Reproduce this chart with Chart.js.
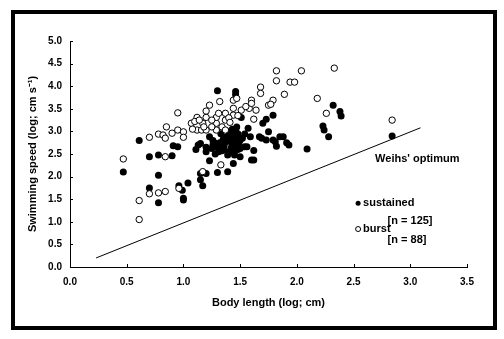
<!DOCTYPE html>
<html>
<head>
<meta charset="utf-8">
<script src="https://cdn.jsdelivr.net/npm/chart.js@4.4.1/dist/chart.umd.min.js"></script>
<style>
  html, body { margin: 0; padding: 0; background: #fff; }
  #wrap { position: relative; width: 504px; height: 339px; }
</style>
</head>
<body>
<div id="wrap"><canvas id="speedChart" width="504" height="339"></canvas></div>
<script>
// body length (log cm) / swimming speed (log cm s-1)
const sustainedX = [0.47, 0.61, 0.70, 0.78, 0.90, 0.78, 0.70, 0.78, 0.91, 0.95, 0.96, 0.99, 1.00, 1.00, 1.04,
  1.11, 1.13, 1.15, 1.15, 1.15, 1.17, 1.20, 1.20, 1.20, 1.23, 1.23, 1.26, 1.28, 1.28, 1.30, 1.30, 1.34, 1.34,
  1.38, 1.39, 1.39, 1.42, 1.44, 1.44, 1.44, 1.45, 1.45, 1.46, 1.46, 1.46, 1.47, 1.48, 1.50, 1.50, 1.51, 1.54,
  1.54, 1.56, 1.57, 1.59, 1.60, 1.62, 1.62, 1.32, 1.36, 1.40, 1.42, 1.40, 1.48, 1.43, 1.36, 1.49, 1.52, 1.33,
  1.30, 1.25, 1.47, 1.67, 1.70, 1.73, 1.79, 1.75, 1.73, 1.79, 1.69, 1.81, 1.82, 1.85, 1.88, 1.91, 1.93, 2.09,
  2.23, 2.24, 2.28, 2.32, 2.38, 2.39, 2.84, 1.38, 1.41, 1.45, 1.47, 1.43, 1.35, 1.50, 1.26, 1.31, 1.46];
const sustainedY = [2.10, 2.80, 2.44, 2.48, 2.46, 2.03, 1.75, 1.42, 2.68, 2.66, 1.80, 1.70, 1.48, 1.52, 1.86,
  2.60, 2.70, 2.73, 2.07, 1.93, 1.80, 2.07, 2.55, 2.65, 2.35, 2.88, 2.80, 2.50, 2.74, 2.09, 3.90, 2.63, 2.57,
  2.88, 2.48, 2.11, 2.63, 2.29, 2.96, 2.81, 2.48, 2.55, 3.03, 3.88, 3.81, 2.70, 2.60, 2.44, 2.81, 3.31, 2.94,
  2.66, 2.66, 3.07, 2.88, 2.37, 2.58, 2.37, 2.75, 2.70, 2.78, 2.90, 3.00, 2.95, 2.68, 2.60, 2.75, 2.85, 2.95,
  2.65, 2.62, 3.10, 2.88, 3.18, 3.27, 3.36, 2.99, 2.81, 2.81, 2.85, 2.77, 2.67, 2.88, 2.88, 2.75, 2.70, 2.61,
  3.12, 3.03, 2.88, 3.58, 3.44, 3.34, 2.90, 2.78, 2.55, 2.75, 2.85, 3.05, 2.82, 2.62, 2.70, 2.55, 2.92];

const burstX = [0.47, 0.61, 0.61, 0.70, 0.78, 0.84, 0.84, 0.96, 1.17, 1.33, 0.70, 0.78, 0.82, 0.84, 0.85,
  0.90, 0.95, 1.00, 1.00, 0.95, 1.07, 1.12, 1.12, 1.16, 1.17, 1.20, 1.20, 1.20, 1.23, 1.29, 1.29, 1.32, 1.34,
  1.29, 1.37, 1.37, 1.37, 1.44, 1.44, 1.44, 1.47, 1.51, 1.58, 1.60, 1.62, 1.64, 1.68, 1.68, 1.75, 1.79, 1.82,
  1.82, 2.04, 1.94, 1.98, 2.33, 1.89, 2.18, 2.26, 2.84, 1.77, 1.10, 1.25, 1.40, 1.60, 1.14, 1.18, 1.25, 1.31,
  1.41, 1.48, 1.55, 1.08];
const burstY = [2.39, 1.47, 1.05, 1.62, 1.64, 1.67, 2.44, 1.74, 2.11, 2.26, 2.87, 2.94, 2.92, 2.85, 3.10,
  2.96, 3.03, 2.99, 2.87, 3.41, 3.18, 3.31, 3.03, 3.03, 3.18, 3.31, 3.03, 3.45, 3.58, 3.18, 3.31, 3.66, 3.10,
  3.03, 3.40, 3.25, 3.03, 3.36, 3.51, 3.69, 3.73, 3.47, 3.51, 3.69, 3.27, 3.47, 3.98, 3.84, 3.58, 3.69, 4.34,
  4.12, 4.34, 4.09, 4.09, 4.40, 3.82, 3.73, 3.40, 3.25, 3.60, 3.22, 3.25, 3.30, 3.62, 3.25, 3.10, 3.10, 3.40,
  3.20, 3.35, 3.55, 3.05];

const weihsX = [0.23, 3.09];
const weihsY = [0.20, 3.08];

const xTicks = ['0.0', '0.5', '1.0', '1.5', '2.0', '2.5', '3.0', '3.5'];
const yTicks = ['0.0', '0.5', '1.0', '1.5', '2.0', '2.5', '3.0', '3.5', '4.0', '4.5', '5.0'];

const toPoints = (xs, ys) => xs.map((x, i) => ({ x: x, y: ys[i] }));

Chart.defaults.font.family = "'Liberation Sans', Arial, sans-serif";
Chart.defaults.font.weight = 'bold';
Chart.defaults.font.size = 10;
Chart.defaults.color = '#000';

// frame, inward ticks and the text notes inside the plot
const extras = {
  id: 'extras',
  afterDraw(chart) {
    const ctx = chart.ctx;
    const xs = chart.scales.x, ys = chart.scales.y;
    ctx.save();
    ctx.strokeStyle = '#000';
    ctx.lineWidth = 4;
    ctx.strokeRect(13, 12, 482, 316);

    ctx.lineWidth = 1;
    ctx.beginPath();
    xTicks.forEach(t => {
      const px = Math.round(xs.getPixelForValue(parseFloat(t))) + 0.5;
      ctx.moveTo(px, ys.bottom);
      ctx.lineTo(px, ys.bottom - 3);
    });
    yTicks.forEach(t => {
      const py = Math.round(ys.getPixelForValue(parseFloat(t))) + 0.5;
      ctx.moveTo(xs.left, py);
      ctx.lineTo(xs.left + 3, py);
    });
    ctx.stroke();

    ctx.fillStyle = '#000';
    ctx.font = "bold 11px 'Liberation Sans', Arial, sans-serif";
    ctx.textBaseline = 'middle';
    ctx.textAlign = 'left';
    ctx.fillText("Weihs' optimum", xs.getPixelForValue(2.69), ys.getPixelForValue(2.4));

    // legend
    const lx = xs.getPixelForValue(2.54);
    const r1 = ys.getPixelForValue(1.41);
    const r3 = ys.getPixelForValue(0.84);
    ctx.beginPath();
    ctx.arc(lx, r1, 2.5, 0, Math.PI * 2);
    ctx.fill();
    ctx.beginPath();
    ctx.arc(lx, r3, 2.5, 0, Math.PI * 2);
    ctx.fillStyle = '#fff';
    ctx.fill();
    ctx.stroke();
    ctx.fillStyle = '#000';
    ctx.fillText('sustained', lx + 5, r1);
    ctx.fillText('burst', lx + 5, r3);
    ctx.fillText('[n = 125]', xs.getPixelForValue(2.80), ys.getPixelForValue(1.02));
    ctx.fillText('[n = 88]', xs.getPixelForValue(2.80), ys.getPixelForValue(0.59));
    ctx.restore();
  }
};

new Chart(document.getElementById('speedChart'), {
  type: 'scatter',
  data: {
    datasets: [
      {
        label: 'burst',
        data: toPoints(burstX, burstY),
        pointRadius: 3.2,
        pointBackgroundColor: '#fff',
        pointBorderColor: '#000',
        pointBorderWidth: 1,
        order: 0
      },
      {
        label: 'sustained',
        data: toPoints(sustainedX, sustainedY),
        pointRadius: 3.5,
        pointBackgroundColor: '#000',
        pointBorderColor: '#000',
        pointBorderWidth: 0,
        order: 1
      },
      {
        type: 'line',
        label: "Weihs' optimum",
        data: toPoints(weihsX, weihsY),
        borderColor: '#000',
        borderWidth: 1,
        pointRadius: 0,
        fill: false,
        order: 2
      }
    ]
  },
  options: {
    responsive: false,
    animation: false,
    layout: { padding: { left: 0, right: 37, top: 41, bottom: 0 } },
    plugins: { legend: { display: false }, tooltip: { enabled: false } },
    scales: {
      x: {
        type: 'linear',
        min: 0,
        max: 3.5,
        afterFit: s => { s.height = 72; },
        grid: { display: false, drawTicks: false },
        border: { display: true, color: '#000', width: 1 },
        ticks: {
          stepSize: 0.5,
          padding: 9,
          callback: v => xTicks[Math.round(v * 2)]
        },
        title: {
          display: true,
          text: 'Body length (log; cm)',
          font: { size: 11, weight: 'bold' },
          padding: { top: 0, bottom: 29 }
        }
      },
      y: {
        type: 'linear',
        min: 0,
        max: 5,
        afterFit: s => { s.width = 70; },
        grid: { display: false, drawTicks: false },
        border: { display: true, color: '#000', width: 1 },
        ticks: {
          stepSize: 0.5,
          padding: 8,
          callback: v => yTicks[Math.round(v * 2)]
        },
        title: {
          display: true,
          text: 'Swimming speed (log; cm s\u207B\u00B9)',
          font: { size: 11, weight: 'bold' },
          padding: { top: 26, bottom: 0 }
        }
      }
    }
  },
  plugins: [extras]
});
</script>
</body>
</html>
